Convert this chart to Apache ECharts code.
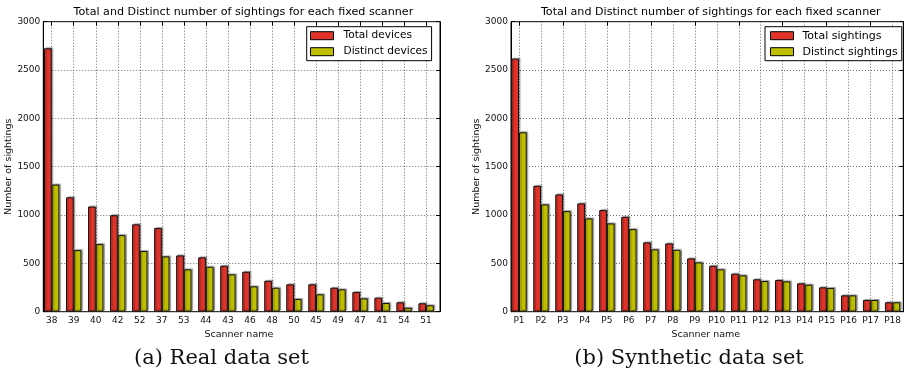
<!DOCTYPE html>
<html>
<head>
<meta charset="utf-8">
<script src="https://cdn.jsdelivr.net/npm/echarts@6/dist/echarts.min.js"></script>
<style>html,body{margin:0;padding:0;background:#fff;}#c{width:905px;height:373px;}</style>
</head>
<body>
<div id="c"></div>
<script>
const chartTitle = 'Total and Distinct number of sightings for each fixed scanner';
const realCategories = ['38','39','40','42','52','37','53','44','43','46','48','50','45','49','47','41','54','51'];
const realTotal = [2725,1183,1088,998,904,865,582,562,475,413,320,283,283,248,203,145,97,87];
const realDistinct = [1315,637,699,792,627,572,438,465,386,262,248,131,180,231,138,90,41,66];
const synCategories = ['P1','P2','P3','P4','P5','P6','P7','P8','P9','P10','P11','P12','P13','P14','P15','P16','P17','P18'];
const synTotal = [2618,1302,1213,1120,1051,981,717,706,551,475,393,335,327,293,252,169,121,97];
const synDistinct = [1856,1110,1040,965,913,854,645,640,510,438,376,317,314,279,245,169,121,97];
const yMin = 0, yMax = 3000, yInterval = 500;

const RED = '#E0332A', YEL = '#BFBF00';
const FF = 'DejaVu Sans';
const dotted = {show: true, lineStyle: {color: '#444', width: 0.8, type: [1, 2]}};

const chart = echarts.init(document.getElementById('c'), null, {renderer: 'canvas'});

function frameGrid(left, width) { return {left: left, top: 21.7, width: width, height: 290, show: true, borderColor: '#000', borderWidth: 1, backgroundColor: 'transparent', containLabel: false}; }
function barGrid(left, width) { return {left: left, top: 21.7, width: width, height: 290, show: false, containLabel: false}; }

function axesFor(gFrame, gBar, cats) {
  const xs = [
    {gridIndex: gFrame, type: 'value', show: false, min: 0, max: 1},
    {gridIndex: gBar, type: 'category', position: 'bottom', data: cats,
      axisLine: {show: false},
      axisTick: {show: true, inside: true, length: 4, alignWithLabel: true, lineStyle: {color: '#000'}},
      axisLabel: {fontFamily: FF, fontSize: 9, color: '#111', margin: 4, interval: 0},
      splitLine: Object.assign({alignWithLabel: true, interval: 0}, dotted),
      name: 'Scanner name', nameLocation: 'middle', nameGap: 14,
      nameTextStyle: {fontFamily: FF, fontSize: 9.5, color: '#111'}},
    {gridIndex: gBar, type: 'category', position: 'top', data: cats,
      axisLine: {show: false},
      axisTick: {show: true, inside: true, length: 4, alignWithLabel: true, lineStyle: {color: '#000'}},
      axisLabel: {show: false}, splitLine: {show: false}}
  ];
  const ys = [
    {gridIndex: gFrame, type: 'value', position: 'left', min: yMin, max: yMax, interval: yInterval,
      axisLine: {show: true, lineStyle: {color: '#000', width: 1}},
      axisTick: {show: true, inside: true, length: 4, lineStyle: {color: '#000'}},
      axisLabel: {fontFamily: FF, fontSize: 9, color: '#111', margin: 3, formatter: v => String(v)},
      splitLine: dotted,
      name: 'Number of sightings', nameLocation: 'middle', nameGap: 26.5, nameRotate: 90,
      nameTextStyle: {fontFamily: FF, fontSize: 9.5, color: '#111'}},
    {gridIndex: gFrame, type: 'value', position: 'right', min: yMin, max: yMax, interval: yInterval,
      axisLine: {show: true, lineStyle: {color: '#000', width: 1}},
      axisTick: {show: true, inside: true, length: 4, lineStyle: {color: '#000'}},
      axisLabel: {show: false}, splitLine: {show: false}},
    {gridIndex: gBar, type: 'value', show: false, min: yMin, max: yMax}
  ];
  return {xs, ys};
}

const A = axesFor(0, 1, realCategories);
const B = axesFor(2, 3, synCategories);

function barSeries(name, data, color, xi, yi) {
  return {name: name, type: 'bar', data: data, xAxisIndex: xi, yAxisIndex: yi,
    barWidth: 7.7, barGap: '0%', z: 3,
    itemStyle: {color: color, borderColor: '#111', borderWidth: 1,
      shadowColor: 'rgba(0,0,0,0.3)', shadowBlur: 1, shadowOffsetX: 1.5, shadowOffsetY: -1}};
}

function legendAt(left, names, fs, padL, textGap) {
  return {orient: 'vertical', left: left, top: 26.7, data: names, icon: 'rect',
    itemWidth: 23, itemHeight: 8, itemGap: 2, padding: [2, 4, 2, padL],
    borderColor: '#000', borderWidth: 1, backgroundColor: '#fff', borderRadius: 0,
    selectedMode: false,
    itemStyle: {borderColor: '#000', borderWidth: 1, shadowBlur: 0, shadowOffsetX: 0, shadowOffsetY: 0, shadowColor: 'transparent'},
    textStyle: {fontFamily: FF, fontSize: fs, color: '#000', lineHeight: 14, padding: [0, 0, 0, textGap]}};
}

const titleStyle = {fontFamily: FF, fontSize: 11.15, fontWeight: 'normal', color: '#000'};
const capStyle = {fontFamily: 'DejaVu Serif', fontSize: 21, fontWeight: 'normal', color: '#111'};

chart.setOption({
  animation: false,
  backgroundColor: '#fff',
  title: [
    {text: chartTitle, left: 243.4, top: 6.5, padding: 0, textStyle: titleStyle},
    {text: chartTitle, left: 710.8, top: 6.5, padding: 0, textStyle: titleStyle},
    {text: '(a) Real data set', left: 221.5, top: 348, padding: 0, textStyle: capStyle},
    {text: '(b) Synthetic data set', left: 689, top: 348, padding: 0, textStyle: capStyle}
  ].map(t => Object.assign(t, {textAlign: 'center'})),
  grid: [frameGrid(43.3, 396.7), barGrid(40.7, 396.4), frameGrid(511, 392.3), barGrid(508.0, 395.6)],
  xAxis: A.xs.concat(B.xs),
  yAxis: A.ys.concat(B.ys),
  legend: [legendAt(306.7, ['Total devices', 'Distinct devices'], 10.6, 3.3, 5),
           legendAt(765, ['Total sightings', 'Distinct sightings'], 11, 5, 4)],
  series: [
    barSeries('Total devices', realTotal, RED, 1, 2),
    barSeries('Distinct devices', realDistinct, YEL, 1, 2),
    barSeries('Total sightings', synTotal, RED, 4, 5),
    barSeries('Distinct sightings', synDistinct, YEL, 4, 5)
  ]
});
</script>
</body>
</html>
